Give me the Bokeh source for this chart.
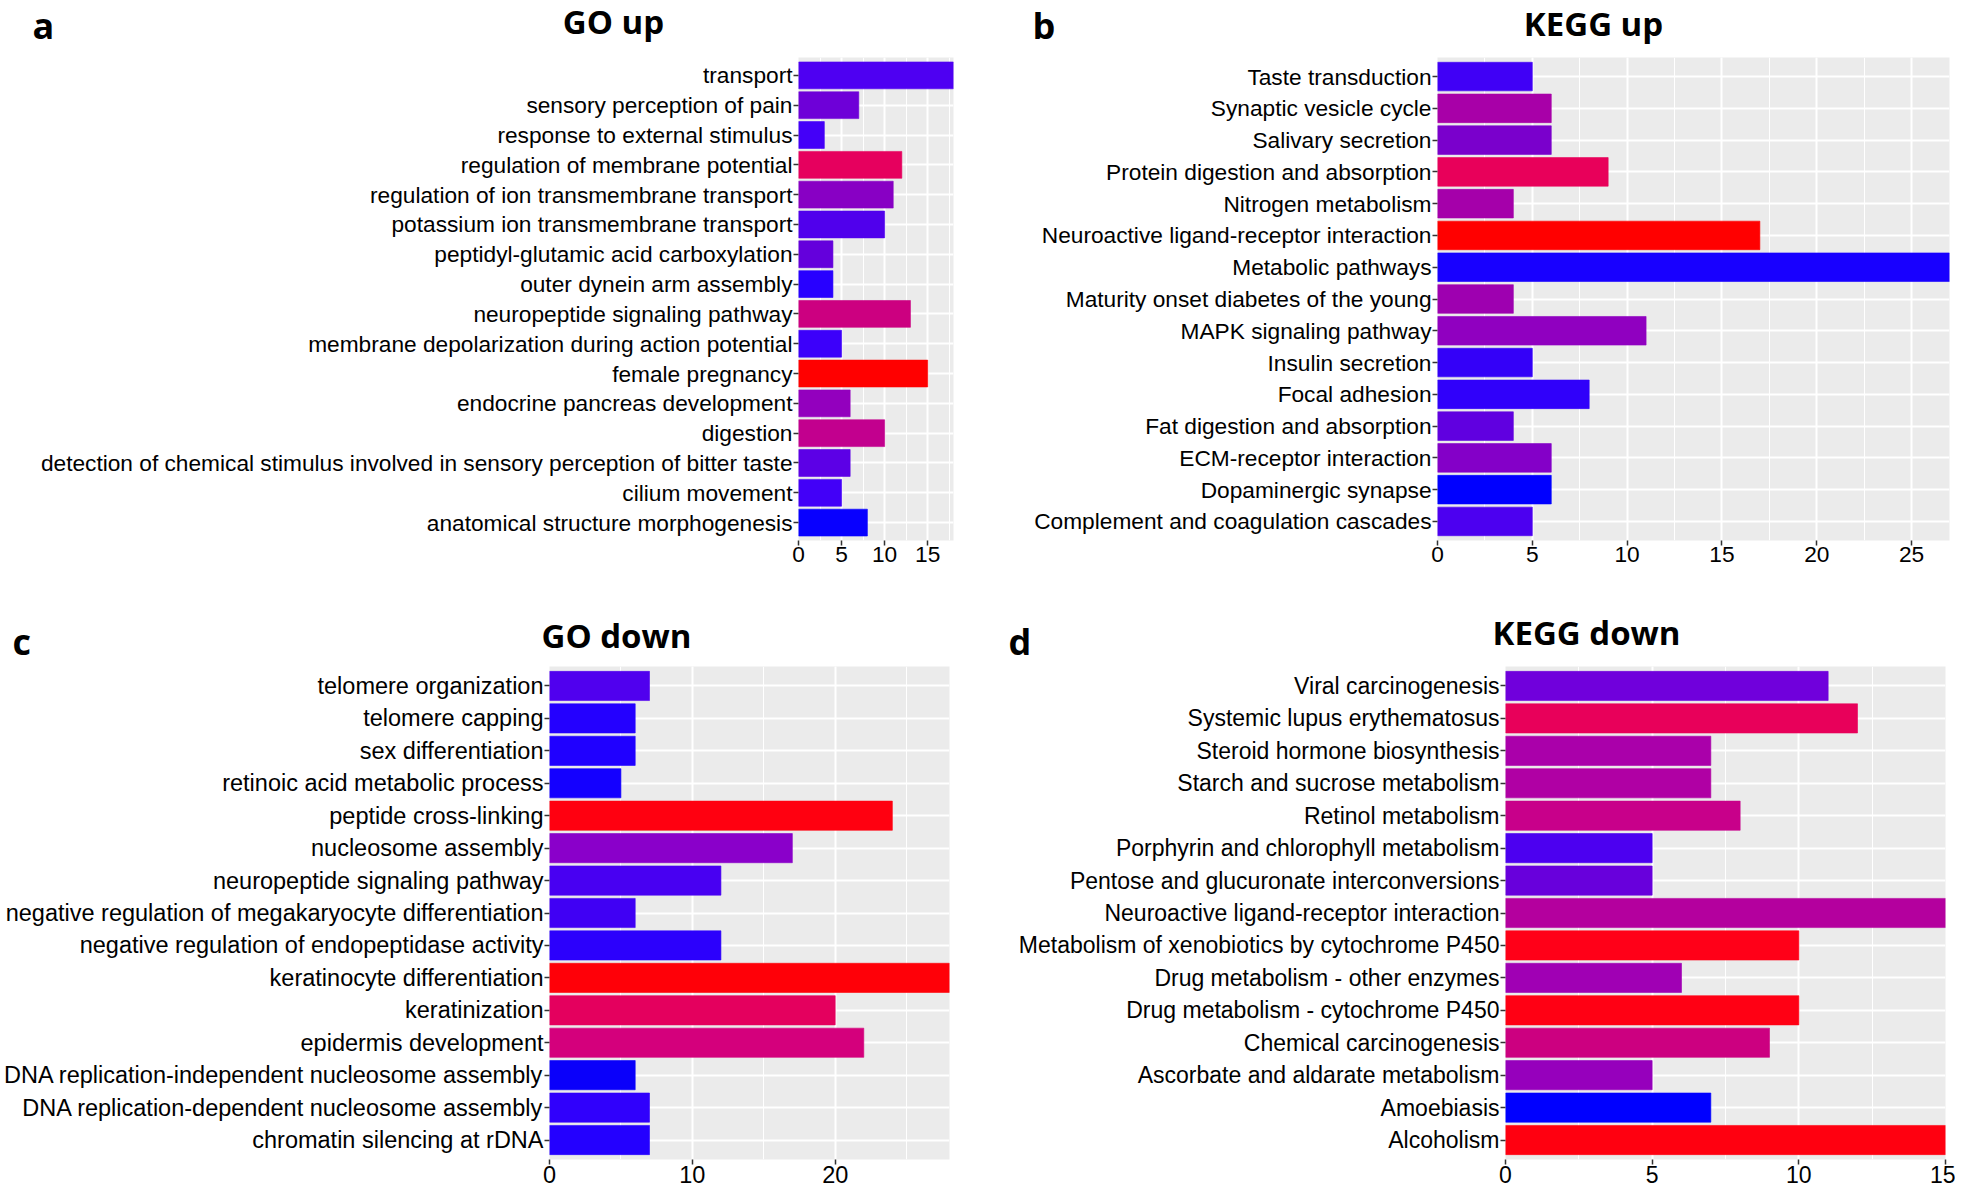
from bokeh.plotting import figure
from bokeh.layouts import column, row
from bokeh.models import Label, FactorRange, Range1d, SingleIntervalTicker, ColumnDataSource
from bokeh.embed import file_html
from bokeh.resources import INLINE

# ---------------- data (top-to-bottom as shown) ----------------
go_up_terms = [
    "transport", "sensory perception of pain", "response to external stimulus",
    "regulation of membrane potential", "regulation of ion transmembrane transport",
    "potassium ion transmembrane transport", "peptidyl-glutamic acid carboxylation",
    "outer dynein arm assembly", "neuropeptide signaling pathway",
    "membrane depolarization during action potential", "female pregnancy",
    "endocrine pancreas development", "digestion",
    "detection of chemical stimulus involved in sensory perception of bitter taste",
    "cilium movement", "anatomical structure morphogenesis",
]
go_up_counts = [18, 7, 3, 12, 11, 10, 4, 4, 13, 5, 15, 6, 10, 6, 5, 8]
go_up_fill = ["#4E00F2", "#6E00D8", "#4400F8", "#E6005E", "#8800C4", "#5000EC",
              "#6400DC", "#2800FF", "#CC0080", "#3C00FA", "#FF0000", "#9300BE",
              "#C2008E", "#5C00E6", "#4200F8", "#0800FF"]

kegg_up_terms = [
    "Taste transduction", "Synaptic vesicle cycle", "Salivary secretion",
    "Protein digestion and absorption", "Nitrogen metabolism",
    "Neuroactive ligand-receptor interaction", "Metabolic pathways",
    "Maturity onset diabetes of the young", "MAPK signaling pathway",
    "Insulin secretion", "Focal adhesion", "Fat digestion and absorption",
    "ECM-receptor interaction", "Dopaminergic synapse",
    "Complement and coagulation cascades",
]
kegg_up_counts = [5, 6, 6, 9, 4, 17, 27, 4, 11, 5, 8, 4, 6, 6, 5]
kegg_up_fill = ["#4000F6", "#A800A8", "#7A00CC", "#E8005A", "#A500AA", "#FF0000",
                "#1800FF", "#9E00B0", "#9000C0", "#3400F8", "#3000FA", "#6000E0",
                "#8400C8", "#0000FF", "#4C00F0"]

go_down_terms = [
    "telomere organization", "telomere capping", "sex differentiation",
    "retinoic acid metabolic process", "peptide cross-linking", "nucleosome assembly",
    "neuropeptide signaling pathway",
    "negative regulation of megakaryocyte differentiation",
    "negative regulation of endopeptidase activity", "keratinocyte differentiation",
    "keratinization", "epidermis development",
    "DNA replication-independent nucleosome assembly",
    "DNA replication-dependent nucleosome assembly", "chromatin silencing at rDNA",
]
go_down_counts = [7, 6, 6, 5, 24, 17, 12, 6, 12, 28, 20, 22, 6, 7, 7]
go_down_fill = ["#5000EE", "#2400FF", "#2000FF", "#1400FF", "#FF0010", "#8A00CA",
                "#4800F2", "#4000F4", "#2C00FC", "#FF0008", "#E4005E", "#D4007C",
                "#0A00FA", "#3000FC", "#2400FF"]

kegg_down_terms = [
    "Viral carcinogenesis", "Systemic lupus erythematosus", "Steroid hormone biosynthesis",
    "Starch and sucrose metabolism", "Retinol metabolism",
    "Porphyrin and chlorophyll metabolism", "Pentose and glucuronate interconversions",
    "Neuroactive ligand-receptor interaction",
    "Metabolism of xenobiotics by cytochrome P450", "Drug metabolism - other enzymes",
    "Drug metabolism - cytochrome P450", "Chemical carcinogenesis",
    "Ascorbate and aldarate metabolism", "Amoebiasis", "Alcoholism",
]
kegg_down_counts = [11, 12, 7, 7, 8, 5, 5, 15, 10, 6, 10, 9, 5, 7, 15]
kegg_down_fill = ["#7000DC", "#E8005A", "#AA00AA", "#B000A4", "#C8008A", "#4C00F0",
                  "#6800DC", "#B4009E", "#FF0018", "#A000B4", "#FF0014", "#CC0080",
                  "#9600BC", "#0000FF", "#FF0010"]

LABEL_FONT = "Liberation Sans"
TITLE_FONT = "Open Sans"


def header(width, height, title, title_pos, letter, letter_pos):
    h = figure(width=width, height=height, x_range=Range1d(0, width),
               y_range=Range1d(height, 0), x_axis_type=None, y_axis_type=None,
               output_backend="svg", toolbar_location=None, min_border=0)
    h.outline_line_color = None
    h.background_fill_color = "white"
    h.border_fill_color = "white"
    h.add_layout(Label(x=title_pos[0], y=title_pos[1], text=title,
                       text_font=TITLE_FONT, text_font_style="bold",
                       text_font_size="33px", text_color="black",
                       text_align="center", text_baseline="middle"))
    h.add_layout(Label(x=letter_pos[0], y=letter_pos[1], text=letter,
                       text_font=TITLE_FONT, text_font_style="bold",
                       text_font_size="36px", text_color="black",
                       text_align="left", text_baseline="middle"))
    return h


def panel(terms, counts, fills, xmax, interval, width, height, borders, fsize):
    left, right, top, bottom = borders
    src = ColumnDataSource(dict(term=terms, count=counts, fill=fills))
    p = figure(width=width, height=height,
               y_range=FactorRange(factors=list(reversed(terms)), range_padding=0.1,
                                   range_padding_units="absolute"),
               x_range=Range1d(0, xmax),
               output_backend="svg", toolbar_location=None,
               min_border_left=left, min_border_right=right,
               min_border_top=top, min_border_bottom=bottom)
    p.hbar(y="term", left=0, right="count", height=0.9, source=src,
           fill_color="fill", line_color="fill", line_alpha=0.6)
    p.background_fill_color = "#EBEBEB"
    p.border_fill_color = "white"
    p.outline_line_color = None

    p.xaxis.ticker = SingleIntervalTicker(interval=interval, num_minor_ticks=2)
    p.xgrid.grid_line_color = "white"
    p.xgrid.grid_line_width = 2
    p.xgrid.minor_grid_line_color = "white"
    p.xgrid.minor_grid_line_width = 1
    p.ygrid.grid_line_color = "white"
    p.ygrid.grid_line_width = 2

    for ax in (p.xaxis[0], p.yaxis[0]):
        ax.axis_line_color = None
        ax.major_tick_line_color = "#333333"
        ax.major_tick_line_width = 1.5
        ax.major_tick_out = 5
        ax.major_tick_in = 0
        ax.minor_tick_line_color = None
        ax.major_label_text_color = "black"
        ax.major_label_text_font = LABEL_FONT
        ax.major_label_standoff = 1
        ax.major_label_text_font_size = fsize
    return p


# top row
ha = header(1000, 50, "GO up", (613, 21), "a", (32, 25))
hb = header(955, 50, "KEGG up", (593, 23), "b", (32, 25))
pa = panel(go_up_terms, go_up_counts, go_up_fill, 18, 5, 1000, 540, (798, 47, 3, 50), "22.7px")
pb = panel(kegg_up_terms, kegg_up_counts, kegg_up_fill, 27, 5, 955, 540, (437, 6, 7, 47), "22.7px")

# bottom row
hc = header(1000, 76, "GO down", (616, 45), "c", (12, 51))
hd = header(955, 76, "KEGG down", (586, 42), "d", (8, 51))
pc = panel(go_down_terms, go_down_counts, go_down_fill, 28, 10, 1000, 522, (549, 51, 0, 26), "23.5px")
pd = panel(kegg_down_terms, kegg_down_counts, kegg_down_fill, 15, 5, 955, 522, (505, 10, 0, 29), "23px")

layout = column(row(ha, hb, spacing=0), row(pa, pb, spacing=0),
                row(hc, hd, spacing=0), row(pc, pd, spacing=0), spacing=0)
open("out.html", "w").write(file_html(layout, INLINE))
